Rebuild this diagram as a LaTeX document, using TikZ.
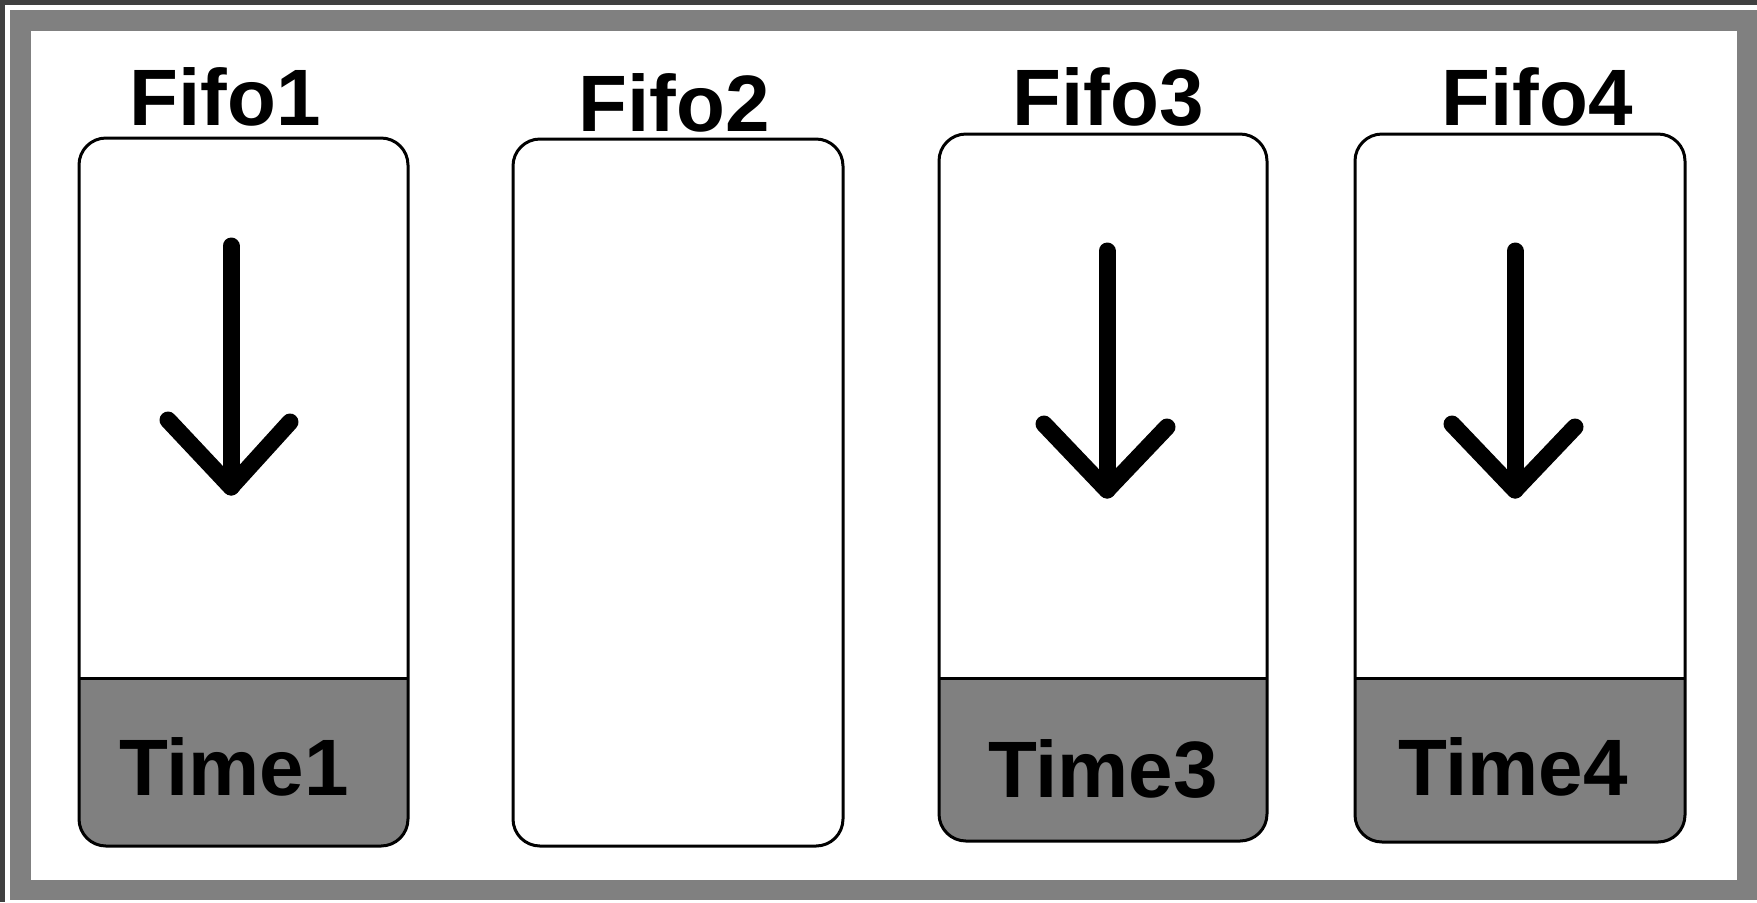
\documentclass[tikz,border=0pt]{standalone}
\usepackage{fontspec}
\setmainfont{Liberation Sans}
\definecolor{frameDark}{HTML}{404040}
\definecolor{frameGray}{HTML}{808080}
\begin{document}
\begin{tikzpicture}[x=0.5pt,y=-0.5pt,
  lbl/.style={font=\fontsize{40}{48}\selectfont\bfseries, anchor=base, inner sep=0pt},
  boxline/.style={draw=black, line width=1.5pt},
  rbox/.style={boxline, rounded corners=13.5pt},
  arr/.style={line width=8.5pt, line cap=round, line join=round}]
\useasboundingbox (0,0) rectangle (1757,902);
% window frame
\fill[frameDark] (0,0) rectangle (1757,902);
\fill[white] (5,5) rectangle (1757,902);
\fill[frameGray] (10,10) rectangle (1757,900);
\fill[white] (31,31) rectangle (1737,880);

% Box 1
\begin{scope}
  \clip (70,678) rectangle (420,860);
  \fill[frameGray, rounded corners=13.5pt] (79,138) rectangle (408,846);
\end{scope}
\draw[rbox] (79,138) rectangle (408,846);
\draw[boxline] (79,678) -- (408,678);

% Box 2
\draw[rbox] (513,139) rectangle (843,846);

% Box 3
\begin{scope}
  \clip (930,678) rectangle (1280,860);
  \fill[frameGray, rounded corners=13.5pt] (939,134) rectangle (1267,841);
\end{scope}
\draw[rbox] (939,134) rectangle (1267,841);
\draw[boxline] (939,678) -- (1267,678);

% Box 4
\begin{scope}
  \clip (1345,678) rectangle (1695,860);
  \fill[frameGray, rounded corners=13.5pt] (1355,134) rectangle (1685,842);
\end{scope}
\draw[rbox] (1355,134) rectangle (1685,842);
\draw[boxline] (1355,678) -- (1685,678);

% Arrows
\coordinate (a1top) at (231,246);
\coordinate (a1tip) at (231,487);
\coordinate (a1l) at (168,420);
\coordinate (a1r) at (290,422);
\draw[arr] (a1top) -- (a1tip);
\draw[arr] (a1l) -- (a1tip) -- (a1r);

\coordinate (a3top) at (1107,251);
\coordinate (a3tip) at (1107,490);
\coordinate (a3l) at (1044,424);
\coordinate (a3r) at (1167,427);
\draw[arr] (a3top) -- (a3tip);
\draw[arr] (a3l) -- (a3tip) -- (a3r);

\coordinate (a4top) at (1515,251);
\coordinate (a4tip) at (1515,490);
\coordinate (a4l) at (1452,424);
\coordinate (a4r) at (1575,427);
\draw[arr] (a4top) -- (a4tip);
\draw[arr] (a4l) -- (a4tip) -- (a4r);

% Labels
\node[lbl] (fifo1) at (225,125) {Fifo1};
\node[lbl] (fifo2) at (674,131) {Fifo2};
\node[lbl] (fifo3) at (1108,125) {Fifo3};
\node[lbl] (fifo4) at (1537,125) {Fifo4};
\node[lbl] (time1) at (234,795) {Time1};
\node[lbl] (time3) at (1103,797) {Time3};
\node[lbl] (time4) at (1513,795) {Time4};
\end{tikzpicture}
\end{document}
